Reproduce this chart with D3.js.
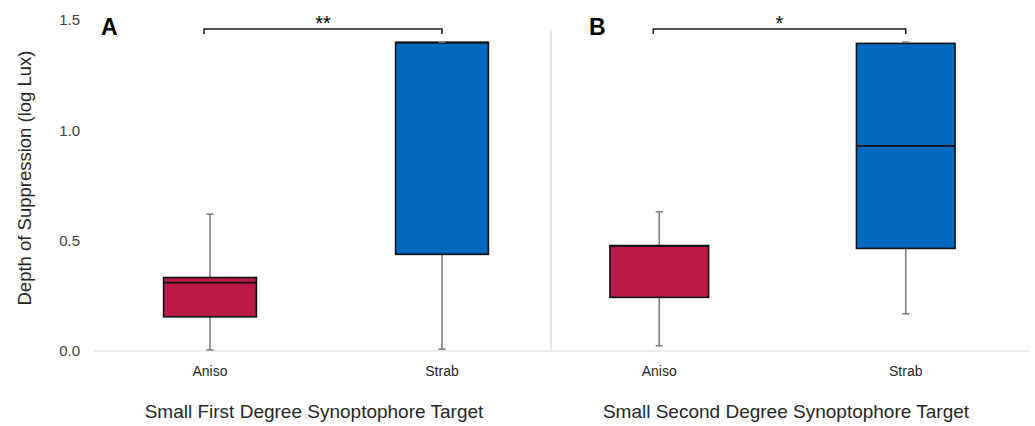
<!DOCTYPE html>
<html>
<head>
<meta charset="utf-8">
<script src="https://cdn.jsdelivr.net/npm/d3@7"></script>
<style>
  body { margin: 0; background: #fff; }
  svg { display: block; font-family: "Liberation Sans", Arial, sans-serif; }
</style>
</head>
<body>
<svg id="chart" width="1035" height="426"></svg>
<script>
// box plot values
const categories = ["Aniso", "Strab"];
const panelLabels = ["A", "B"];
const panelTitles = ["Small First Degree Synoptophore Target", "Small Second Degree Synoptophore Target"];
const significance = ["**", "*"];
const yTicks = [0, 0.5, 1.0, 1.5];

// [min, q1, median, q3, max]
const panelA = [
  [0.005, 0.155, 0.31, 0.333, 0.62],
  [0.008, 0.438, 1.398, 1.398, 1.4]
];
const panelB = [
  [0.024, 0.243, 0.475, 0.478, 0.631],
  [0.169, 0.465, 0.93, 1.394, 1.4]
];

const colors = { Aniso: "#BB1A46", Strab: "#0069C0" };

const svg = d3.select("#chart");

const y = d3.scaleLinear().domain([0, 1.5]).range([351, 20]);

// two side-by-side panels, each with its own band scale
const panels = [
  { data: panelA, x: d3.scaleBand().domain(categories).range([94, 558]) },
  { data: panelB, x: d3.scaleBand().domain(categories).range([536, 1029]) }
];

// baseline + divider
svg.append("line")
  .attr("x1", 94).attr("x2", 1029)
  .attr("y1", y(0)).attr("y2", y(0))
  .attr("stroke", "#d9d9d9").attr("stroke-width", 1.2);
svg.append("line")
  .attr("x1", 551).attr("x2", 551)
  .attr("y1", 29).attr("y2", y(0))
  .attr("stroke", "#d9d9d9").attr("stroke-width", 1.2);

// y axis labels
const yAxis = svg.append("g")
  .attr("transform", "translate(86,0)")
  .call(d3.axisLeft(y).tickValues(yTicks).tickFormat(d3.format(".1f")).tickSize(0));
yAxis.select(".domain").remove();
yAxis.selectAll("text")
  .attr("x", -6)
  .attr("font-size", 15)
  .attr("font-family", "Liberation Sans, Arial, sans-serif")
  .attr("fill", "#404040");

svg.append("text")
  .attr("transform", "translate(31,178) rotate(-90)")
  .attr("text-anchor", "middle")
  .attr("font-size", 18.5)
  .attr("fill", "#262626")
  .text("Depth of Suppression (log Lux)");

panels.forEach((p, i) => {
  const x = p.x;
  const bw = x.bandwidth() * 0.4;
  const g = svg.append("g");

  const boxes = g.selectAll(".box")
    .data(p.data.map((v, j) => ({ cat: categories[j], v })))
    .enter().append("g")
    .attr("class", "box");

  const cx = d => x(d.cat) + x.bandwidth() / 2;

  // whisker
  boxes.append("line")
    .attr("x1", cx).attr("x2", cx)
    .attr("y1", d => y(d.v[0])).attr("y2", d => y(d.v[4]))
    .attr("stroke", "#7f7f7f").attr("stroke-width", 1.6);

  boxes.append("rect")
    .attr("x", d => cx(d) - bw / 2)
    .attr("width", bw)
    .attr("y", d => y(d.v[3]))
    .attr("height", d => y(d.v[1]) - y(d.v[3]))
    .attr("fill", d => colors[d.cat])
    .attr("stroke", "#111").attr("stroke-width", 1.6);

  // median
  boxes.append("line")
    .attr("x1", d => cx(d) - bw / 2).attr("x2", d => cx(d) + bw / 2)
    .attr("y1", d => y(d.v[2])).attr("y2", d => y(d.v[2]))
    .attr("stroke", "#111").attr("stroke-width", 1.8);

  // caps
  [0, 4].forEach(k => {
    boxes.append("line")
      .attr("x1", d => cx(d) - 3.5).attr("x2", d => cx(d) + 3.5)
      .attr("y1", d => y(d.v[k])).attr("y2", d => y(d.v[k]))
      .attr("stroke", "#7f7f7f").attr("stroke-width", 1.6);
  });

  // category labels
  g.selectAll(".cat")
    .data(categories)
    .enter().append("text")
    .attr("x", d => x(d) + x.bandwidth() / 2)
    .attr("y", 376)
    .attr("text-anchor", "middle")
    .attr("font-size", 14)
    .attr("fill", "#262626")
    .text(d => d);

  // axis title
  g.append("text")
    .attr("x", i === 0 ? 314 : 786)
    .attr("y", 418)
    .attr("text-anchor", "middle")
    .attr("font-size", 19)
    .attr("fill", "#262626")
    .text(panelTitles[i]);

  // panel letter
  g.append("text")
    .attr("x", i === 0 ? 101 : 589)
    .attr("y", 35)
    .attr("font-size", 23)
    .attr("font-weight", "bold")
    .attr("fill", "#000")
    .text(panelLabels[i]);

  // significance bracket
  const bx1 = x("Aniso") + x.bandwidth() / 2 - 6;
  const bx2 = x("Strab") + x.bandwidth() / 2;
  g.append("path")
    .attr("d", `M${bx1},34V29H${bx2}V34`)
    .attr("fill", "none")
    .attr("stroke", "#1a1a1a").attr("stroke-width", 1.5);
  g.append("text")
    .attr("x", (bx1 + bx2) / 2)
    .attr("y", 30)
    .attr("text-anchor", "middle")
    .attr("font-size", 20)
    .attr("fill", "#000")
    .text(significance[i]);
});
</script>
</body>
</html>
